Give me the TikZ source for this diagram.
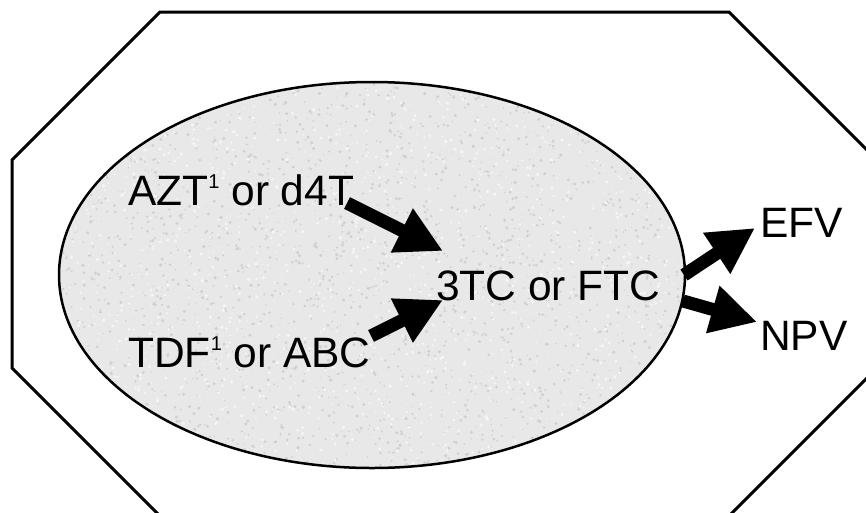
\documentclass[tikz,border=0pt]{standalone}
\usepackage{fontspec}
\setmainfont{Liberation Sans}
\usetikzlibrary{arrows.meta}
\definecolor{granite}{RGB}{232,232,232}
\definecolor{speckdark}{RGB}{208,208,208}
\definecolor{specklight}{RGB}{246,246,246}
\newfontfamily\supfont[Scale=1]{Liberation Sans}
\newcommand{\supone}{\raisebox{17pt}{\supfont\fontsize{20}{20}\selectfont 1}}
\tikzset{
  lbl/.style={anchor=base west, inner sep=0pt, font=\fontsize{42.5}{50}\selectfont},
  blockarrow/.style={line width=13pt, -{Triangle[length=46pt,width=46pt]}},
  frame/.style={line width=3pt, line join=miter},
}
\begin{document}
\begin{tikzpicture}[x=1pt,y=-1pt]
\useasboundingbox (0,0) rectangle (866,512);
% octagon
\draw[frame] (160,12) -- (729,12) -- (877,160) -- (877,368) -- (729,516) -- (160,516) -- (12,368) -- (12,160) -- cycle;
% ellipse with speckled fill
\fill[granite] (372,275) ellipse [x radius=313, y radius=193];
\begin{scope}
\clip (372,275) ellipse [x radius=313, y radius=193];
\pgfmathsetseed{7}
\foreach \i in {1,...,2200}{
  \pgfmathsetmacro{\px}{60+626*rnd}
  \pgfmathsetmacro{\py}{82+386*rnd}
  \pgfmathsetmacro{\pr}{0.6+1.2*rnd}
  \fill[speckdark] (\px,\py) circle[radius=\pr];
}
\foreach \i in {1,...,1500}{
  \pgfmathsetmacro{\px}{60+626*rnd}
  \pgfmathsetmacro{\py}{82+386*rnd}
  \pgfmathsetmacro{\pr}{0.6+1.2*rnd}
  \fill[specklight] (\px,\py) circle[radius=\pr];
}
\end{scope}
\draw[line width=2.5pt] (372,275) ellipse [x radius=313, y radius=193];
% labels
\node[lbl] (azt) at (128,205) {AZT\supone\ or d4T};
\node[lbl] (tdf) at (128,367) {TDF\supone\ or ABC};
\node[lbl] (ftc) at (436,300) {3TC or FTC};
\node[lbl] (efv) at (760,237) {EFV};
\node[lbl] (npv) at (760,350) {NPV};
% arrow end points
\coordinate (a1s) at (347,203);
\coordinate (a1e) at (443,251);
\coordinate (a2s) at (371,336);
\coordinate (a2e) at (443,300);
\coordinate (a3s) at (684,275);
\coordinate (a3e) at (755,228);
\coordinate (a4s) at (683,301);
\coordinate (a4e) at (757,322);
\draw[blockarrow] (a1s) -- (a1e);
\draw[blockarrow] (a2s) -- (a2e);
\draw[blockarrow] (a3s) -- (a3e);
\draw[blockarrow] (a4s) -- (a4e);
\end{tikzpicture}
\end{document}
